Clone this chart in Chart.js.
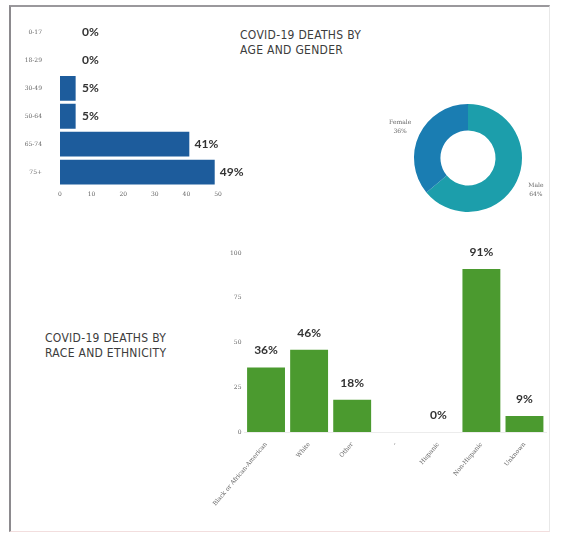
<!DOCTYPE html>
<html>
<head>
<meta charset="utf-8">
<script src="https://cdn.jsdelivr.net/npm/chart.js@4"></script>
<style>
  html, body { margin: 0; padding: 0; background: #fff; }
  body { width: 563px; height: 533px; position: relative; overflow: hidden; }
  .frame { position: absolute; left: 9px; top: 5px; width: 538px; height: 524px;
    border-left: 2px solid #8c8a8e; border-top: 2px solid #9a989c;
    border-right: 1px solid #e8e8e8; border-bottom: 1px solid #f2dede; }
  .box { position: absolute; }
  .title { position: absolute; font-family: "DejaVu Sans Condensed", "DejaVu Sans", sans-serif;
    font-size: 12px; line-height: 15px; color: #3c3c3c; letter-spacing: 0.3px; }
</style>
</head>
<body>
<div class="frame"></div>
<div class="title" style="left:240px; top:28px;">COVID-19 DEATHS BY<br>AGE AND GENDER</div>
<div class="title" style="left:45px; top:331px;">COVID-19 DEATHS BY<br>RACE AND ETHNICITY</div>
<div class="box" style="left:15px; top:-3px; width:245px; height:215px;"><canvas id="ageChart"></canvas></div>
<div class="box" style="left:373px; top:58px; width:190px; height:200px;"><canvas id="genderChart"></canvas></div>
<div class="box" style="left:185px; top:235px; width:370px; height:285px;"><canvas id="raceChart"></canvas></div>
<script>
const ageGroups = ["0-17", "18-29", "30-49", "50-64", "65-74", "75+"];
const ageDeaths = [0, 0, 5, 5, 41, 49];
const ageTicks = [0, 10, 20, 30, 40, 50];

const genders = ["Male", "Female"];
const genderDeaths = [64, 36];

const raceGroups = ["Black or African-American", "White", "Other", "-", "Hispanic", "Non-Hispanic", "Unknown"];
const raceDeaths = [36, 46, 18, null, 0, 91, 9];
const raceTicks = [0, 25, 50, 75, 100];

const tickFont = { family: "DejaVu Serif", size: 6 };
const pctFont = "bold 12px Lato, 'DejaVu Sans', sans-serif";

// percent labels next to the horizontal bars
const agePctLabels = {
  id: "agePctLabels",
  afterDatasetsDraw(chart) {
    const ctx = chart.ctx;
    const xs = chart.scales.x;
    ctx.save();
    ctx.font = pctFont;
    ctx.fillStyle = "#333";
    ctx.textBaseline = "middle";
    ctx.textAlign = "left";
    chart.getDatasetMeta(0).data.forEach((bar, i) => {
      const x = Math.max(bar.x + 5, xs.getPixelForValue(7));
      ctx.fillText(ageDeaths[i] + "%", x, bar.y);
    });
    ctx.restore();
  }
};

// percent labels above the vertical bars
const racePctLabels = {
  id: "racePctLabels",
  afterDatasetsDraw(chart) {
    const ctx = chart.ctx;
    ctx.save();
    ctx.font = pctFont;
    ctx.fillStyle = "#333";
    ctx.textBaseline = "middle";
    ctx.textAlign = "center";
    chart.getDatasetMeta(0).data.forEach((bar, i) => {
      if (raceDeaths[i] === null) return;
      ctx.fillText(raceDeaths[i] + "%", bar.x, bar.y - 17);
    });
    ctx.restore();
  }
};

// slice names outside the ring
const genderLabels = {
  id: "genderLabels",
  afterDatasetsDraw(chart) {
    const ctx = chart.ctx;
    ctx.save();
    ctx.font = "6px 'DejaVu Serif'";
    ctx.fillStyle = "#666";
    ctx.textAlign = "center";
    ctx.textBaseline = "middle";
    chart.getDatasetMeta(0).data.forEach((arc, i) => {
      const mid = (arc.startAngle + arc.endAngle) / 2;
      const r = arc.outerRadius + 21;
      const x = arc.x + Math.cos(mid) * r;
      const y = arc.y + Math.sin(mid) * r;
      ctx.fillText(genders[i], x, y - 4);
      ctx.fillText(genderDeaths[i] + "%", x, y + 5);
    });
    ctx.restore();
  }
};

new Chart(document.getElementById("ageChart"), {
  type: "bar",
  data: {
    labels: ageGroups,
    datasets: [{
      data: ageDeaths,
      backgroundColor: "#1d5c9c",
      borderColor: "#ffffff",
      borderWidth: { top: 1, bottom: 1, left: 0, right: 0 },
      barPercentage: 0.96,
      categoryPercentage: 1
    }]
  },
  options: {
    indexAxis: "y",
    responsive: true,
    maintainAspectRatio: false,
    animation: false,
    layout: { padding: { top: 0, right: 42, left: 0, bottom: 0 } },
    plugins: { legend: { display: false }, tooltip: { enabled: false } },
    scales: {
      x: {
        min: 0, max: 50,
        afterBuildTicks: (s) => { s.ticks = ageTicks.map(v => ({ value: v })); },
        afterFit: (s) => { s.height = 26; },
        grid: { display: false, drawTicks: false },
        border: { display: false },
        ticks: { font: tickFont, color: "#666", padding: 5 }
      },
      y: {
        afterFit: (s) => { s.width = 45; },
        grid: { display: false, drawTicks: false },
        border: { display: false },
        ticks: { font: tickFont, color: "#666", padding: 18 }
      }
    }
  },
  plugins: [agePctLabels]
});

new Chart(document.getElementById("genderChart"), {
  type: "doughnut",
  data: {
    labels: genders,
    datasets: [{
      data: genderDeaths,
      backgroundColor: ["#1c9eab", "#1a7db2"],
      borderWidth: 0
    }]
  },
  options: {
    responsive: true,
    maintainAspectRatio: false,
    animation: false,
    cutout: "51%",
    layout: { padding: 41 },
    plugins: { legend: { display: false }, tooltip: { enabled: false } }
  },
  plugins: [genderLabels]
});

new Chart(document.getElementById("raceChart"), {
  type: "bar",
  data: {
    labels: raceGroups,
    datasets: [{
      data: raceDeaths,
      backgroundColor: "#4b9a2f",
      barPercentage: 0.88,
      categoryPercentage: 1
    }]
  },
  options: {
    responsive: true,
    maintainAspectRatio: false,
    animation: false,
    layout: { padding: { top: 18, right: 9, left: 0, bottom: 0 } },
    plugins: { legend: { display: false }, tooltip: { enabled: false } },
    scales: {
      x: {
        afterFit: (s) => { s.height = 88; s.paddingLeft = 0; s.paddingRight = 0; },
        grid: { display: false, drawTicks: false },
        border: { display: true, color: "#ececec" },
        ticks: { font: tickFont, color: "#666", minRotation: 50, maxRotation: 50, padding: 9 }
      },
      y: {
        min: 0, max: 100,
        afterBuildTicks: (s) => { s.ticks = raceTicks.map(v => ({ value: v })); },
        afterFit: (s) => { s.width = 59.5; },
        grid: { display: false, drawTicks: false },
        border: { display: false },
        ticks: { font: tickFont, color: "#666", padding: 3 }
      }
    }
  },
  plugins: [racePctLabels]
});
</script>
</body>
</html>
